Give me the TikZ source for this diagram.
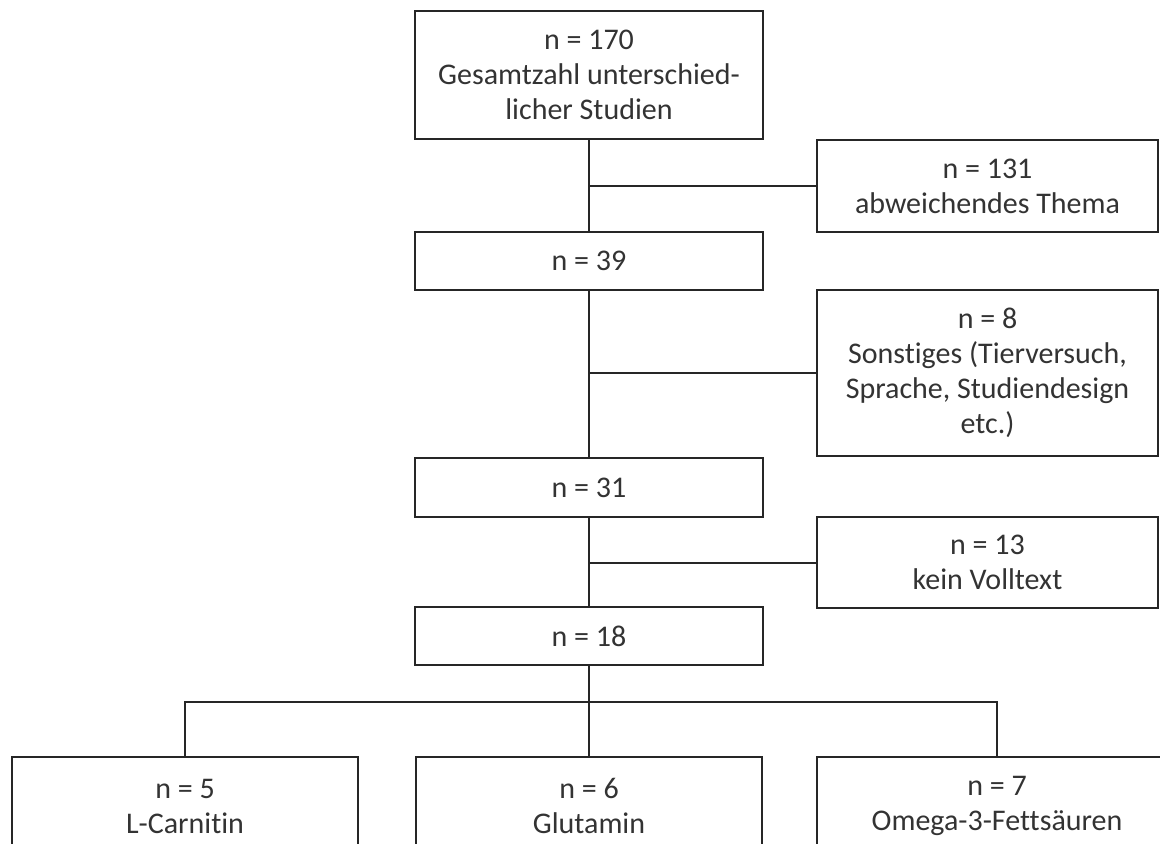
\documentclass[tikz,border=0pt]{standalone}
\usepackage{fontspec}
\setmainfont{Carlito}[Ligatures={CommonOff}]
\usetikzlibrary{positioning}
\begin{document}
\begin{tikzpicture}[x=0.5pt, y=-0.5pt,
    every node/.style={font=\fontsize{15}{17.5}\selectfont, text=black!80, align=center},
    stage/.style={draw=black!85, line width=1.1pt, minimum width=174pt, inner sep=0pt},
    excl/.style={draw=black!85, line width=1.1pt, minimum width=170.5pt, inner sep=0pt},
    link/.style={draw=black!85, line width=1pt}]
    \useasboundingbox (0,0) rectangle (1160,843);
    \clip (0,0) rectangle (1160,843);
    % Hauptstrang
    \node[stage, minimum height=64pt] (all) at (589,75) {n = 170\\ Gesamtzahl unterschied-\\ licher Studien};
    \node[stage, minimum height=29pt] (s39) at (589,261) {n = 39};
    \node[stage, minimum height=29.5pt] (s31) at (589,487.5) {n = 31};
    \node[stage, minimum height=29pt] (s18) at (589,636) {n = 18};
    % Ausschluesse
    \node[excl, minimum height=46pt] (thema) at (987.5,186) {n = 131\\ abweichendes Thema};
    \node[excl, minimum height=83pt] (sonst) at (987.5,373) {n = 8\\ Sonstiges (Tierversuch,\\ Sprache, Studiendesign\\ etc.)};
    \node[excl, minimum height=45.5pt] (voll) at (987.5,562.5) {n = 13\\ kein Volltext};
    % Substanzen
    \node[stage, minimum width=173pt, minimum height=49pt] (carn) at (185,806) {n = 5\\ L-Carnitin};
    \node[stage, minimum width=173pt, minimum height=49pt] (glut) at (589,806) {n = 6\\ Glutamin};
    \node[stage, minimum width=180pt, minimum height=49pt] (omega) at (997,806) {n = 7\\ Omega-3-Fettsäuren};
    \coordinate (split) at (589,702);
    % Verbindungen
    \draw[link] (all) -- (s39);
    \draw[link] (s39) -- (s31);
    \draw[link] (s31) -- (s18);
    \draw[link] (s18) -- (glut);
    \draw[link] (all.south |- thema.west) -- (thema);
    \draw[link] (s39.south |- sonst.west) -- (sonst);
    \draw[link] (s31.south |- voll.west) -- (voll);
    \draw[link] (carn.north) |- (split) -| (omega.north);
\end{tikzpicture}
\end{document}
